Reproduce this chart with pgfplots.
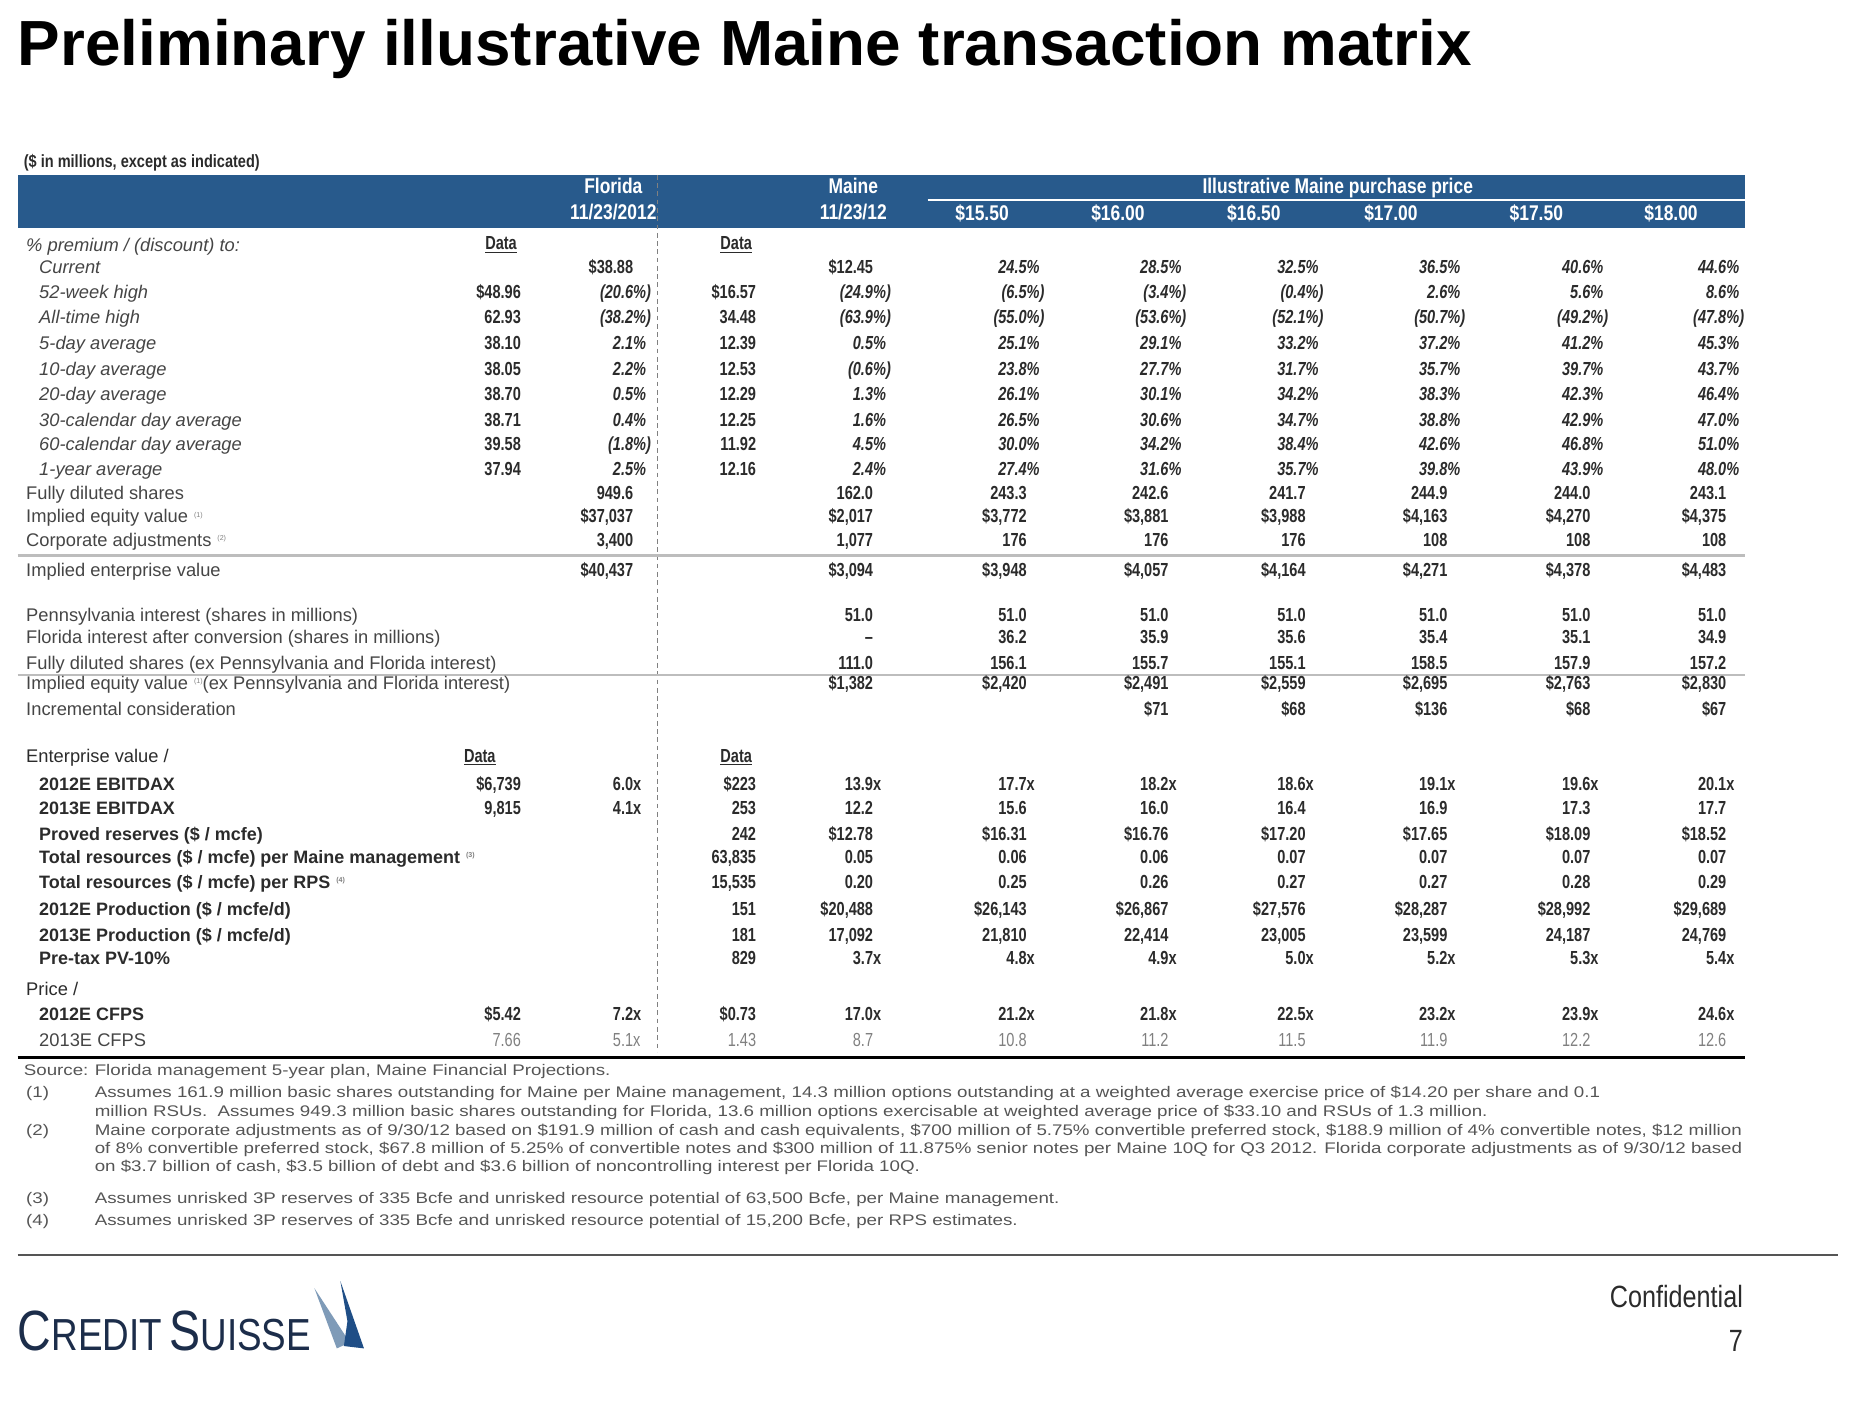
\documentclass[border=0pt]{standalone}
\usepackage{fontspec}
\setmainfont{Liberation Sans}
\newfontfamily\nar[FakeStretch=0.82]{Liberation Sans}
\newfontfamily\nrw[FakeStretch=0.77]{Liberation Sans}
\newfontfamily\fnt[FakeStretch=1.22]{Liberation Sans}
\usepackage{pgfplots}
\pgfplotsset{compat=1.18}
\definecolor{hdr}{HTML}{285A8C}
\definecolor{txt}{HTML}{2B2B2B}
\definecolor{lab}{HTML}{454545}
\definecolor{foot}{HTML}{555555}
\definecolor{rulegray}{HTML}{BDBDBD}
\definecolor{navy}{HTML}{1C2D4A}
\definecolor{sail1}{HTML}{7F9BB8}
\definecolor{sail2}{HTML}{1F4E86}

\tikzset{
  vals/.style={anchor=base east, inner sep=0pt, yshift=-5.5pt,
    font=\nrw\bfseries\fontsize{16}{18}\selectfont, text=txt},
  lite/.style={vals, font=\nrw\fontsize{16}{18}\selectfont, text=gray},
  labA/.style={anchor=base west, inner sep=0pt, yshift=-5.5pt,
    font=\fontsize{15.5}{17}\selectfont, text=lab},
  labC/.style={labA, text=txt},
  labB/.style={labA, font=\bfseries\fontsize{15.2}{17}\selectfont, text=txt},
  hd/.style={anchor=base, inner sep=0pt, yshift=-6pt,
    font=\nar\bfseries\fontsize{18}{20}\selectfont, text=white},
  dat/.style={anchor=base, inner sep=0pt, yshift=-5.5pt,
    font=\nrw\bfseries\fontsize{16}{18}\selectfont, text=txt},
  ft/.style={anchor=base west, inner sep=0pt, yshift=-4pt,
    font=\fnt\fontsize{13}{15}\selectfont, text=foot},
}

% percent, negative percent, multiple
\newcommand\pcp[1]{\textit{#1\rlap{\%}}}
\newcommand\pcn[1]{\textit{(#1\rlap{\%)}}}
\newcommand\mult[1]{#1\rlap{x}}
\newcommand\sm[1]{\hspace{5pt}\raisebox{5pt}{\textcolor{gray}{\fontsize{6}{6}\selectfont(#1)}}}

% one value, right edge x, row y
\newcommand\cell[4][vals]{\if\relax\detokenize{#4}\relax\else
  \node[#1] at (axis cs:#2,#3) {#4};\fi}
% Florida data, Florida, Maine data
\newcommand\rowL[5][vals]{\cell[#1]{441}{#2}{#3}\cell[#1]{536}{#2}{#4}\cell[#1]{640}{#2}{#5}}
% Maine, then the six purchase prices
\newcommand\rowR[9][vals]{\cell[#1]{739}{#2}{#3}\cell[#1]{869}{#2}{#4}\cell[#1]{989}{#2}{#5}%
  \cell[#1]{1105}{#2}{#6}\cell[#1]{1225}{#2}{#7}\cell[#1]{1346}{#2}{#8}\cell[#1]{1461}{#2}{#9}}
\newcommand\lab[4][labA]{\node[#1] at (axis cs:#2,#3) {#4};}

\begin{document}
\begin{tikzpicture}
\begin{axis}[scale only axis, width=1568pt, height=1195pt,
  xmin=0, xmax=1568, ymin=0, ymax=1195, y dir=reverse,
  hide axis, clip=false]

% title
\node[anchor=base west, inner sep=0pt, font=\bfseries\fontsize{54}{58}\selectfont]
  at (axis cs:15,55) {Preliminary illustrative Maine transaction matrix};
\node[anchor=base west, inner sep=0pt, font=\nar\bfseries\fontsize{15}{17}\selectfont, text=txt]
  at (axis cs:20,142) {(\$ in millions, except as indicated)};

% header bar
\fill[hdr] (axis cs:15,148) rectangle (axis cs:1477,193);
\draw[white, line width=1.5pt] (axis cs:785,169) -- (axis cs:1477,169);
\node[hd] at (axis cs:519,158) {Florida};
\node[hd] at (axis cs:519,180) {11/23/2012};
\node[hd] at (axis cs:722,158) {Maine};
\node[hd] at (axis cs:722,180) {11/23/12};
\node[hd] at (axis cs:1132,158) {Illustrative Maine purchase price};
\node[hd] at (axis cs:831,181) {\$15.50};
\node[hd] at (axis cs:946,181) {\$16.00};
\node[hd] at (axis cs:1061,181) {\$16.50};
\node[hd] at (axis cs:1177,181) {\$17.00};
\node[hd] at (axis cs:1300,181) {\$17.50};
\node[hd] at (axis cs:1414,181) {\$18.00};

% rules
\draw[gray, line width=0.8pt, dash pattern=on 4pt off 3pt] (axis cs:556,148) -- (axis cs:556,890);
\draw[rulegray, line width=2pt] (axis cs:15,470) -- (axis cs:1477,470);
\draw[rulegray, line width=2pt] (axis cs:15,571) -- (axis cs:1477,571);
\draw[black, line width=3pt] (axis cs:15,895) -- (axis cs:1477,895);
\draw[foot, line width=2pt] (axis cs:15,1062) -- (axis cs:1555,1062);

% block 1 labels
\lab{22}{207}{\textit{\% premium / (discount) to:}}
\lab{33}{226}{\textit{Current}}
\lab{33}{247}{\textit{52-week high}}
\lab{33}{268}{\textit{All-time high}}
\lab{33}{290}{\textit{5-day average}}
\lab{33}{312}{\textit{10-day average}}
\lab{33}{333}{\textit{20-day average}}
\lab{33}{355}{\textit{30-calendar day average}}
\lab{33}{376}{\textit{60-calendar day average}}
\lab{33}{397}{\textit{1-year average}}
\lab{22}{417}{Fully diluted shares}
\lab{22}{437}{Implied equity value\sm{1}}
\lab{22}{457}{Corporate adjustments\sm{2}}
\lab{22}{482}{Implied enterprise value}
\node[dat] at (axis cs:424,206) {\underline{Data}};
\node[dat] at (axis cs:623,206) {\underline{Data}};

\rowL{226}{}{\$38.88}{}
\rowL{247}{\$48.96}{\pcn{20.6}}{\$16.57}
\rowL{268}{62.93}{\pcn{38.2}}{34.48}
\rowL{290}{38.10}{\pcp{2.1}}{12.39}
\rowL{312}{38.05}{\pcp{2.2}}{12.53}
\rowL{333}{38.70}{\pcp{0.5}}{12.29}
\rowL{355}{38.71}{\pcp{0.4}}{12.25}
\rowL{376}{39.58}{\pcn{1.8}}{11.92}
\rowL{397}{37.94}{\pcp{2.5}}{12.16}
\rowL{417}{}{949.6}{}
\rowL{437}{}{\$37,037}{}
\rowL{457}{}{3,400}{}
\rowL{482}{}{\$40,437}{}

\rowR{226}{\$12.45}{\pcp{24.5}}{\pcp{28.5}}{\pcp{32.5}}{\pcp{36.5}}{\pcp{40.6}}{\pcp{44.6}}
\rowR{247}{\pcn{24.9}}{\pcn{6.5}}{\pcn{3.4}}{\pcn{0.4}}{\pcp{2.6}}{\pcp{5.6}}{\pcp{8.6}}
\rowR{268}{\pcn{63.9}}{\pcn{55.0}}{\pcn{53.6}}{\pcn{52.1}}{\pcn{50.7}}{\pcn{49.2}}{\pcn{47.8}}
\rowR{290}{\pcp{0.5}}{\pcp{25.1}}{\pcp{29.1}}{\pcp{33.2}}{\pcp{37.2}}{\pcp{41.2}}{\pcp{45.3}}
\rowR{312}{\pcn{0.6}}{\pcp{23.8}}{\pcp{27.7}}{\pcp{31.7}}{\pcp{35.7}}{\pcp{39.7}}{\pcp{43.7}}
\rowR{333}{\pcp{1.3}}{\pcp{26.1}}{\pcp{30.1}}{\pcp{34.2}}{\pcp{38.3}}{\pcp{42.3}}{\pcp{46.4}}
\rowR{355}{\pcp{1.6}}{\pcp{26.5}}{\pcp{30.6}}{\pcp{34.7}}{\pcp{38.8}}{\pcp{42.9}}{\pcp{47.0}}
\rowR{376}{\pcp{4.5}}{\pcp{30.0}}{\pcp{34.2}}{\pcp{38.4}}{\pcp{42.6}}{\pcp{46.8}}{\pcp{51.0}}
\rowR{397}{\pcp{2.4}}{\pcp{27.4}}{\pcp{31.6}}{\pcp{35.7}}{\pcp{39.8}}{\pcp{43.9}}{\pcp{48.0}}
\rowR{417}{162.0}{243.3}{242.6}{241.7}{244.9}{244.0}{243.1}
\rowR{437}{\$2,017}{\$3,772}{\$3,881}{\$3,988}{\$4,163}{\$4,270}{\$4,375}
\rowR{457}{1,077}{176}{176}{176}{108}{108}{108}
\rowR{482}{\$3,094}{\$3,948}{\$4,057}{\$4,164}{\$4,271}{\$4,378}{\$4,483}

% block 2
\lab{22}{520}{Pennsylvania interest (shares in millions)}
\lab{22}{539}{Florida interest after conversion (shares in millions)}
\lab{22}{561}{Fully diluted shares (ex Pennsylvania and Florida interest)}
\lab{22}{578}{Implied equity value\sm{1}(ex Pennsylvania and Florida interest)}
\lab{22}{600}{Incremental consideration}

\rowR{520}{51.0}{51.0}{51.0}{51.0}{51.0}{51.0}{51.0}
\rowR{539}{\textendash}{36.2}{35.9}{35.6}{35.4}{35.1}{34.9}
\rowR{561}{111.0}{156.1}{155.7}{155.1}{158.5}{157.9}{157.2}
\rowR{578}{\$1,382}{\$2,420}{\$2,491}{\$2,559}{\$2,695}{\$2,763}{\$2,830}
\rowR{600}{}{}{\$71}{\$68}{\$136}{\$68}{\$67}

% block 3
\lab[labC]{22}{640}{Enterprise value /}
\lab[labB]{33}{663}{2012E EBITDAX}
\lab[labB]{33}{684}{2013E EBITDAX}
\lab[labB]{33}{706}{Proved reserves (\$ / mcfe)}
\lab[labB]{33}{725}{Total resources (\$ / mcfe) per Maine management\sm{3}}
\lab[labB]{33}{746}{Total resources (\$ / mcfe) per RPS\sm{4}}
\lab[labB]{33}{769}{2012E Production (\$ / mcfe/d)}
\lab[labB]{33}{791}{2013E Production (\$ / mcfe/d)}
\lab[labB]{33}{811}{Pre-tax PV-10\%}
\lab[labC]{22}{837}{Price /}
\lab[labB]{33}{858}{2012E CFPS}
\lab[labA]{33}{880}{2013E CFPS}
\node[dat] at (axis cs:406,640) {\underline{Data}};
\node[dat] at (axis cs:623,640) {\underline{Data}};

\rowL{663}{\$6,739}{\mult{6.0}}{\$223}
\rowL{684}{9,815}{\mult{4.1}}{253}
\rowL{706}{}{}{242}
\rowL{725}{}{}{63,835}
\rowL{746}{}{}{15,535}
\rowL{769}{}{}{151}
\rowL{791}{}{}{181}
\rowL{811}{}{}{829}
\rowL{858}{\$5.42}{\mult{7.2}}{\$0.73}
\rowL[lite]{880}{7.66}{\mult{5.1}}{1.43}

\rowR{663}{\mult{13.9}}{\mult{17.7}}{\mult{18.2}}{\mult{18.6}}{\mult{19.1}}{\mult{19.6}}{\mult{20.1}}
\rowR{684}{12.2}{15.6}{16.0}{16.4}{16.9}{17.3}{17.7}
\rowR{706}{\$12.78}{\$16.31}{\$16.76}{\$17.20}{\$17.65}{\$18.09}{\$18.52}
\rowR{725}{0.05}{0.06}{0.06}{0.07}{0.07}{0.07}{0.07}
\rowR{746}{0.20}{0.25}{0.26}{0.27}{0.27}{0.28}{0.29}
\rowR{769}{\$20,488}{\$26,143}{\$26,867}{\$27,576}{\$28,287}{\$28,992}{\$29,689}
\rowR{791}{17,092}{21,810}{22,414}{23,005}{23,599}{24,187}{24,769}
\rowR{811}{\mult{3.7}}{\mult{4.8}}{\mult{4.9}}{\mult{5.0}}{\mult{5.2}}{\mult{5.3}}{\mult{5.4}}
\rowR{858}{\mult{17.0}}{\mult{21.2}}{\mult{21.8}}{\mult{22.5}}{\mult{23.2}}{\mult{23.9}}{\mult{24.6}}
\rowR[lite]{880}{8.7}{10.8}{11.2}{11.5}{11.9}{12.2}{12.6}

% footnotes
\node[ft] at (axis cs:20,906) {Source:};
\node[ft] at (axis cs:80,906) {Florida management 5-year plan, Maine Financial Projections.};
\node[ft] at (axis cs:22,925) {(1)};
\node[ft] at (axis cs:80,925) {Assumes 161.9 million basic shares outstanding for Maine per Maine management, 14.3 million options outstanding at a weighted average exercise price of \$14.20 per share and 0.1};
\node[ft] at (axis cs:80,941) {million RSUs.\ \ Assumes 949.3 million basic shares outstanding for Florida, 13.6 million options exercisable at weighted average price of \$33.10 and RSUs of 1.3 million.};
\node[ft] at (axis cs:22,957) {(2)};
\node[ft] at (axis cs:80,957) {Maine corporate adjustments as of 9/30/12 based on \$191.9 million of cash and cash equivalents, \$700 million of 5.75\% convertible preferred stock, \$188.9 million of 4\% convertible notes, \$12 million};
\node[ft] at (axis cs:80,972) {of 8\% convertible preferred stock, \$67.8 million of 5.25\% of convertible notes and \$300 million of 11.875\% senior notes per Maine 10Q for Q3 2012. Florida corporate adjustments as of 9/30/12 based};
\node[ft] at (axis cs:80,987) {on \$3.7 billion of cash, \$3.5 billion of debt and \$3.6 billion of noncontrolling interest per Florida 10Q.};
\node[ft] at (axis cs:22,1014) {(3)};
\node[ft] at (axis cs:80,1014) {Assumes unrisked 3P reserves of 335 Bcfe and unrisked resource potential of 63,500 Bcfe, per Maine management.};
\node[ft] at (axis cs:22,1033) {(4)};
\node[ft] at (axis cs:80,1033) {Assumes unrisked 3P reserves of 335 Bcfe and unrisked resource potential of 15,200 Bcfe, per RPS estimates.};

% footer
\node[anchor=base east, inner sep=0pt, font=\nar\fontsize{26}{28}\selectfont, text=txt]
  at (axis cs:1475,1106) {Confidential};
\node[anchor=base east, inner sep=0pt, font=\nar\fontsize{26}{28}\selectfont, text=txt]
  at (axis cs:1475,1144) {7};
\node[anchor=base west, inner sep=0pt, text=navy, font=\nar]
  at (axis cs:15,1143) {\fontsize{48}{50}\selectfont C\fontsize{38}{40}\selectfont REDIT\,\fontsize{48}{50}\selectfont S\fontsize{38}{40}\selectfont UISSE};
\fill[sail1] (axis cs:266,1090) -- (axis cs:296,1136) -- (axis cs:285,1141) -- cycle;
\fill[sail2] (axis cs:288,1084) -- (axis cs:308,1141) -- (axis cs:291,1139) -- (axis cs:294,1118) -- cycle;

\end{axis}
\pgfresetboundingbox
\path[use as bounding box] (current axis.south west) rectangle (current axis.north east);
\end{tikzpicture}
\end{document}
